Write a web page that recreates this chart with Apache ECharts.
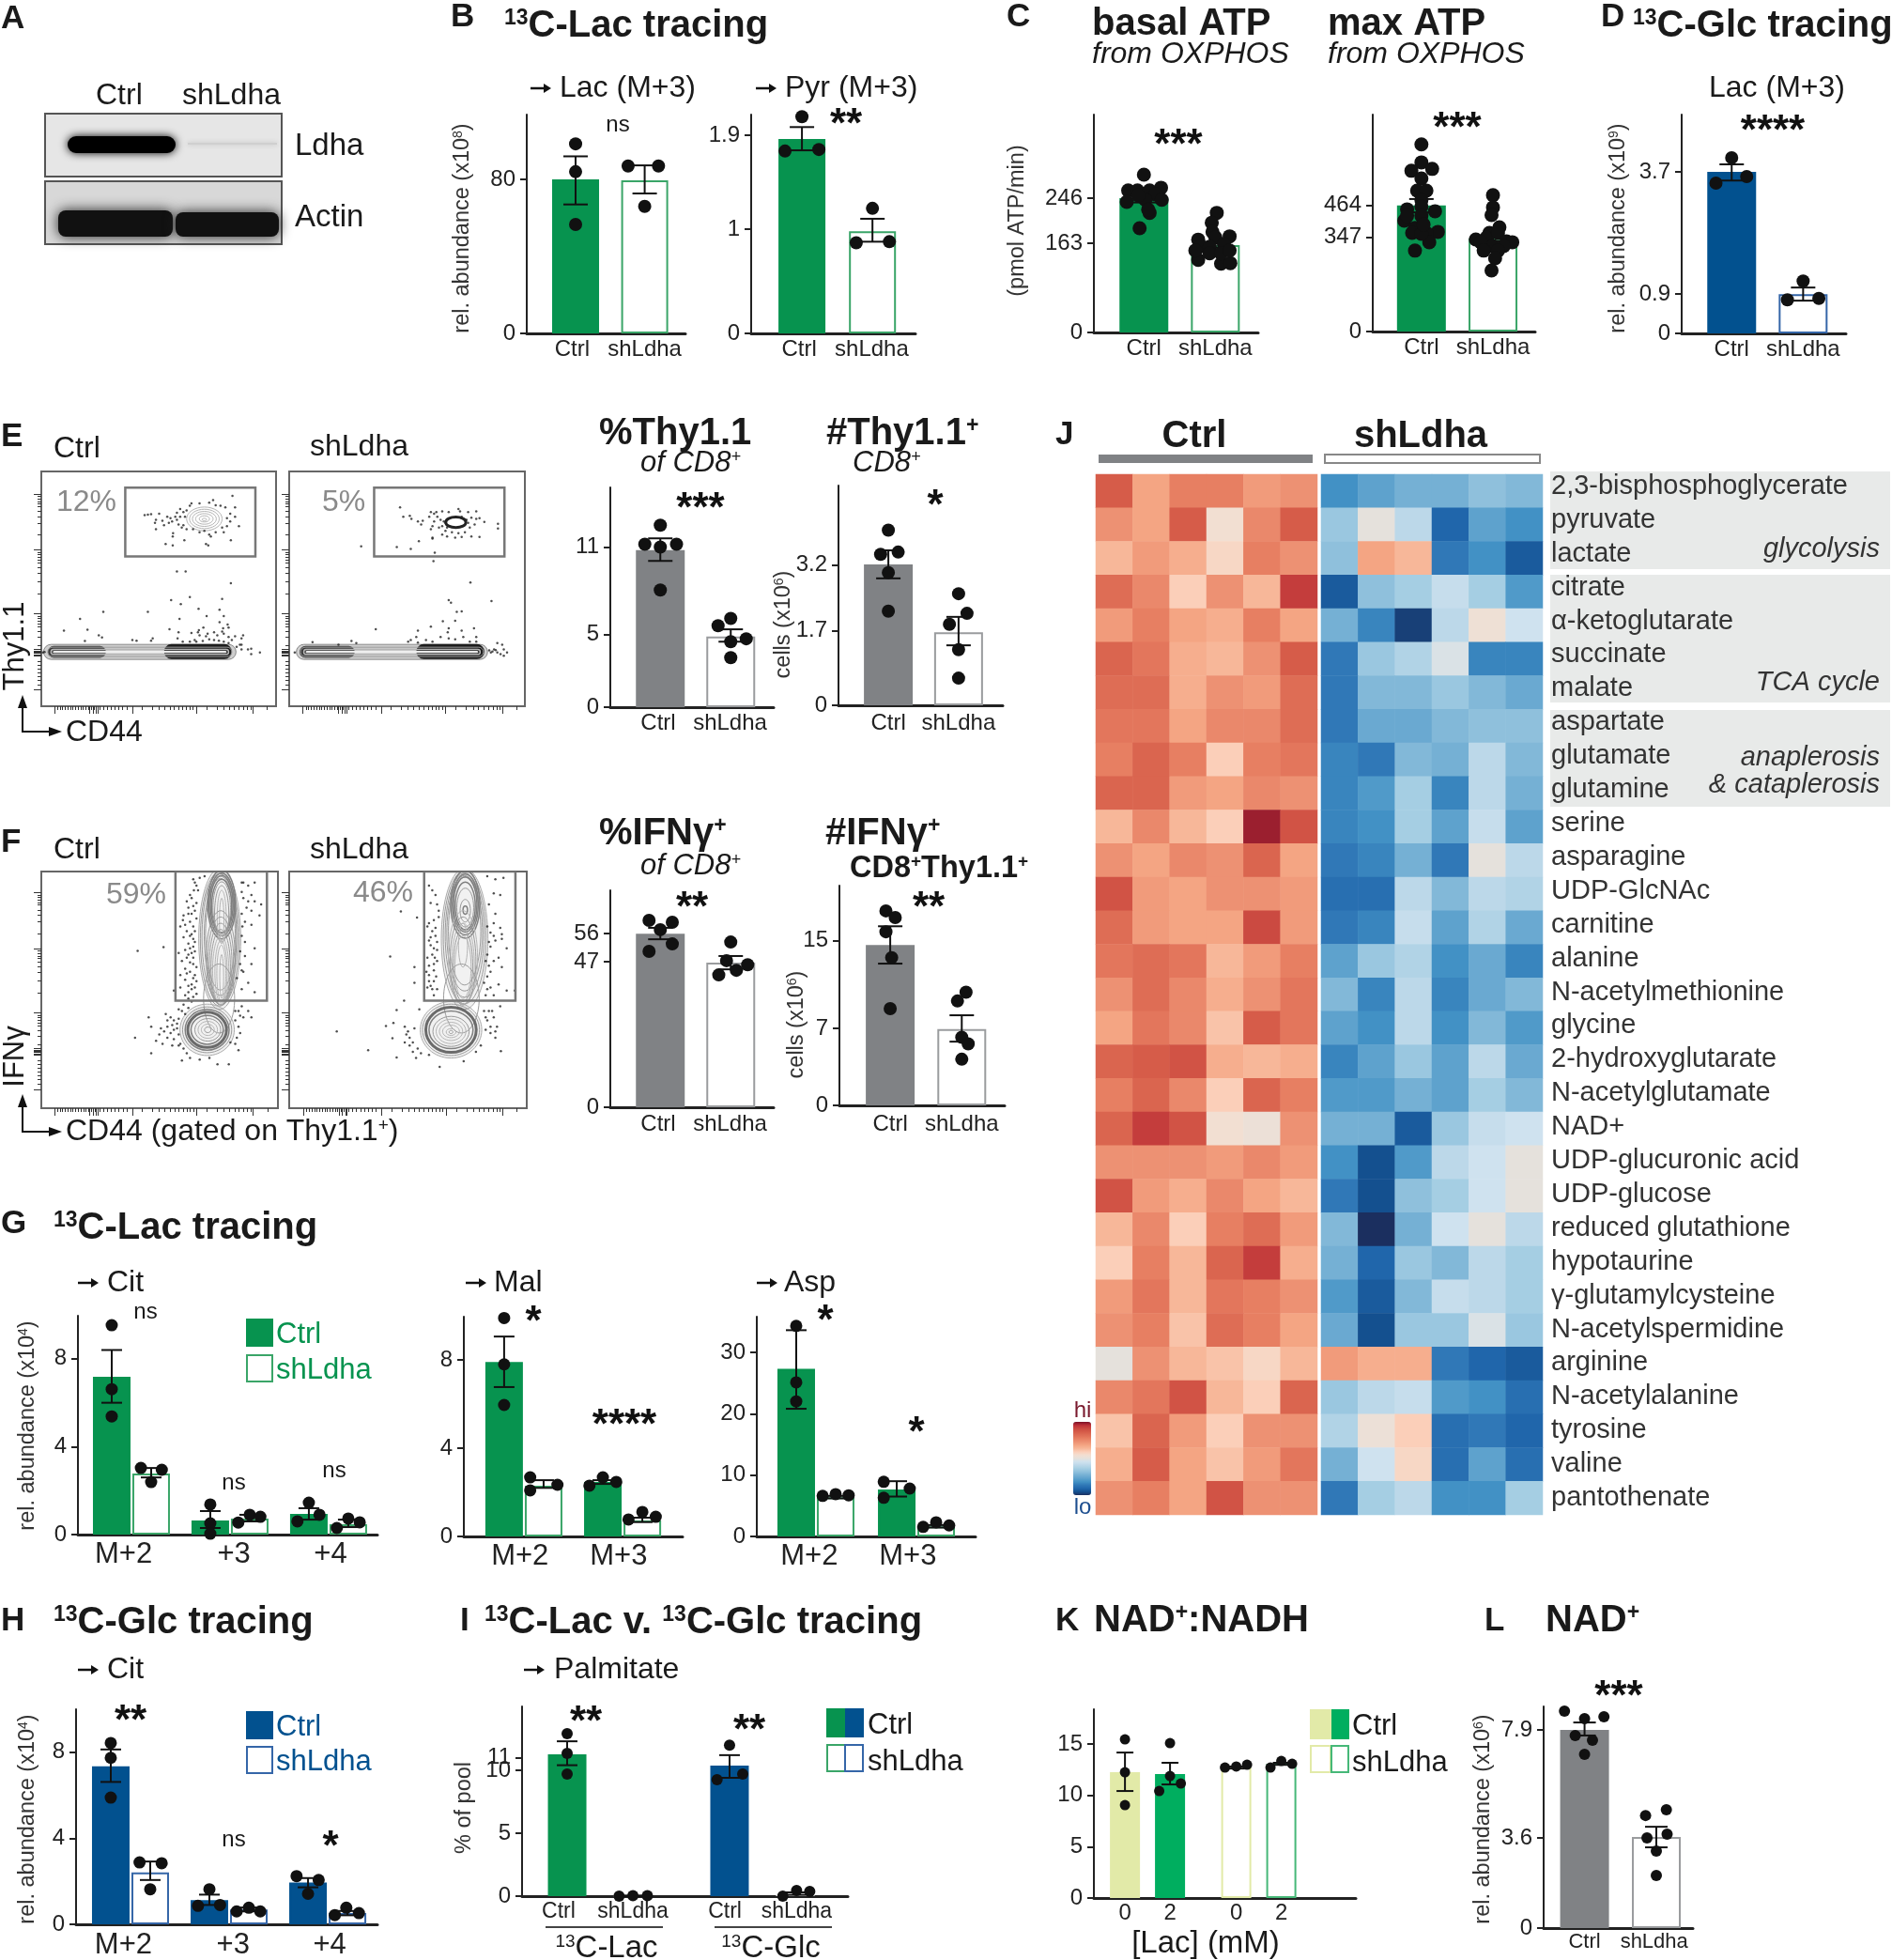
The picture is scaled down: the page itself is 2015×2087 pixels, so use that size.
<!DOCTYPE html>
<html>
<head>
<meta charset="utf-8">
<style>
  html, body { margin: 0; padding: 0; background: #fff; }
  #main { width: 2015px; height: 2087px; }
</style>
<script src="https://cdn.jsdelivr.net/npm/echarts@6/dist/echarts.min.js"></script>
</head>
<body>
<div id="main"></div>
<script>
// ---- bar panels: means, [lo, hi] errors, dots as [x jitter, value] per bar
const pairX = [0, 1];
const pairLabels = ['Ctrl', 'shLdha'];

const bLacMean = [80, 79.5];
const bLacErr = [[67, 92], [72.7, 87.3]];
const bLacDots = [[[0, 98.5], [0, 84], [0, 56.6]], [[-.24, 87], [.2, 87], [0, 66]]];
const bLacTicks = [0, 80];

const bPyrMean = [1.865, 0.98];
const bPyrErr = [[1.757, 1.98], [0.88, 1.1]];
const bPyrDots = [[[0, 2.08], [-.24, 1.75], [.24, 1.765]], [[0, 1.2], [-.23, .87], [.24, .88]]];
const bPyrTicks = [0, 1, 1.9];

const cBasalMean = [246, 160];
const cBasalErr = [[238, 254], [155, 165]];
const cBasalDots = [
  [[0, 289], [-.22, 260], [.24, 265], [-.09, 260], [.08, 260], [.16, 253], [-.24, 239], [.02, 243], [.25, 243], [-.08, 251], [.08, 219], [.06, 225], [-.06, 191]],
  [[.02, 219], [-.05, 201], [-.04, 184], [-.24, 170], [.2, 176], [0, 174], [-.2, 158], [-.08, 157], [.12, 162], [-.24, 133], [.08, 126], [.21, 127], [-.08, 145], [.08, 145], [-.28, 150], [.2, 150]]
];
const cBasalTicks = [0, 163, 246];

const cMaxMean = [464, 343];
const cMaxErr = [[439, 488], [333, 353]];
const cMaxDots = [
  [[0, 689], [0, 623], [-.14, 592], [.15, 599], [0, 564], [-.06, 519], [.07, 519], [0, 484], [-.2, 450], [.19, 443], [0, 460], [-.24, 408], [0, 426], [-.09, 381], [.23, 367], [.07, 363], [-.13, 363], [.11, 329], [-.09, 298], [0, 360], [-.2, 426], [.03, 394]],
  [[0, 502], [0, 457], [-.02, 429], [.09, 384], [-.05, 363], [-.24, 339], [-.09, 346], [.07, 363], [.19, 332], [.27, 329], [-.17, 329], [0, 315], [.15, 315], [-.13, 298], [.07, 298], [.03, 270], [-.02, 225]]
];
const cMaxTicks = [0, 347, 464];

const dLacMean = [3.7, 0.9];
const dLacErr = [[3.5, 3.87], [.75, 1.05]];
const dLacDots = [[[0, 4.02], [-.22, 3.44], [.21, 3.59]], [[0, 1.2], [-.22, .77], [.22, .8]]];
const dLacTicks = [0, .9, 3.7];

const eFreqMean = [10.8, 4.85];
const eFreqErr = [[10.05, 11.6], [4.5, 5.35]];
const eFreqDots = [[[0, 12.5], [-.22, 11.2], [0, 11], [.23, 11.2], [0, 8.05]], [[0, 6.1], [-.18, 5.6], [.22, 4.7], [0, 4.5], [0, 3.4]]];
const eFreqTicks = [0, 5, 11];

const eNumMean = [3.22, 1.67];
const eNumErr = [[2.9, 3.54], [1.37, 2.02]];
const eNumDots = [[[0, 4.0], [-.11, 3.45], [.14, 3.5], [0, 3.03], [0, 2.15]], [[0, 2.55], [.12, 2.1], [-.13, 1.85], [0, 1.27], [0, .62]]];
const eNumTicks = [0, 1.7, 3.2];

const fFreqMean = [56, 46.7];
const fFreqErr = [[54.2, 57.9], [44.5, 48.8]];
const fFreqDots = [[[-.16, 60.3], [.17, 59.7], [0, 57.3], [.17, 52.7], [-.16, 50.3]], [[0, 53.3], [-.06, 47.3], [.24, 46], [-.17, 42.7], [.08, 44.2]]];
const fFreqTicks = [0, 47, 56];

const fNumMean = [14.6, 6.95];
const fNumErr = [[12.9, 16.3], [5.8, 8.2]];
const fNumDots = [[[-.06, 17.7], [.07, 17.1], [-.06, 15.8], [.02, 13.45], [0, 8.8]], [[.06, 10.3], [-.06, 9.5], [0, 6.2], [.09, 5.6], [0, 4.2]]];
const fNumTicks = [0, 7, 15];

const tripleX = [0, 1, 2.5, 3.5, 5, 6];
const tripleLabels = ['M+2', '+3', '+4'];
const gCitMean = [7.18, 2.78, .64, .73, .94, .47];
const gCitErr = [[6, 8.4], [2.6, 3.03], [.3, 1.07], [.6, .9], [.68, 1.2], [.34, .68]];
const gCitDots = [
  [[0, 9.53], [0, 6.62], [0, 5.38]], [[-.26, 3.03], [.27, 2.95], [0, 2.39]],
  [[0, 1.37], [0, .51], [0, .04]], [[-.29, .55], [0, .9], [.27, .81]],
  [[0, 1.45], [-.29, .6], [.27, .9]], [[-.29, .3], [0, .73], [.29, .56]]
];
const gCitTicks = [0, 4, 8];

const gMalX = [0, 1, 2.5, 3.5];
const gMalLabels = ['M+2', 'M+3'];
const gMalMean = [7.91, 2.3, 2.47, .72];
const gMalErr = [[6.77, 9.06], [2.2, 2.55], [2.38, 2.55], [.65, .85]];
const gMalDots = [
  [[0, 9.9], [0, 7.8], [0, 5.96]], [[-.34, 2.68], [-.34, 2.09], [.35, 2.34]],
  [[-.34, 2.3], [0, 2.68], [.34, 2.47]], [[-.35, .77], [0, 1.11], [.34, .89]]
];
const gMalTicks = [0, 4, 8];

const gAspX = [0, 1, 2.55, 3.55];
const gAspLabels = ['M+2', 'M+3'];
const gAspMean = [27.3, 6.4, 7.65, 1.65];
const gAspErr = [[20.8, 33.6], [6.2, 6.6], [6.5, 9], [1.45, 1.85]];
const gAspDots = [
  [[0, 34.3], [0, 25.1], [0, 22]], [[-.33, 6.6], [0, 6.9], [.33, 6.7]],
  [[-.33, 8.9], [.33, 7.8], [-.33, 6.3]], [[-.33, 1.55], [0, 2.3], [.33, 1.8]]
];
const gAspTicks = [0, 10, 20, 30];

const hCitMean = [7.35, 2.41, 1.12, .69, 1.94, .52];
const hCitErr = [[6.62, 8.13], [2.06, 2.92], [.9, 1.38], [.6, .78], [1.72, 2.15], [.42, .62]];
const hCitDots = [
  [[0, 8.43], [0, 7.74], [0, 5.89]], [[-.27, 2.88], [.29, 2.84], [0, 1.63]],
  [[0, 1.63], [-.29, .86], [.27, .9]], [[-.31, .6], [0, .77], [.29, .6]],
  [[-.29, 2.24], [.27, 2.06], [0, 1.42]], [[-.32, .43], [-.03, .77], [.29, .52]]
];
const hCitTicks = [0, 4, 8];

const iPalX = [0, 1, 2.47, 3.47];
const iPalLabels = ['Ctrl', 'shLdha', 'Ctrl', 'shLdha'];
const iPalMean = [11.27, .02, 10.37, .2];
const iPalErr = [[10.4, 12.3], [0, .05], [9.4, 11.2], [.1, .3]];
const iPalDots = [
  [[0, 12.9], [0, 11.34], [0, 9.7]], [[-.21, 0], [0, .03], [.22, .03]],
  [[0, 12], [-.19, 9.25], [.2, 9.7]], [[-.19, 0], [.02, .45], [.22, .37]]
];
// listed so that 10 and 11, which touch, are not the first or last pair
const iPalTicks = [5, 10, 11, 0];

const kNadX = [0, 1, 2.47, 3.47];
const kNadLabels = ['0', '2', '0', '2'];
const kNadMean = [12.26, 12.08, 12.72, 13.08];
const kNadErr = [[10.43, 14.18], [11.07, 13.18], [12.62, 12.82], [12.98, 13.18]];
const kNadDots = [
  [[0, 15.46], [0, 12.26], [0, 9.06]], [[0, 15.1], [0, 11.89], [.24, 11.16], [-.24, 10.43]],
  [[-.25, 12.72], [0, 12.82], [.24, 12.99]], [[-.24, 12.72], [0, 13.36], [.24, 13.08]]
];
const kNadTicks = [0, 5, 10, 15];

const lNadMean = [7.9, 3.63];
const lNadErr = [[7.68, 8.2], [3.22, 4.04]];
const lNadDots = [
  [[-.28, 8.65], [0, 8.35], [.27, 8.43], [-.13, 7.68], [.11, 7.49], [0, 6.93]],
  [[-.15, 4.49], [.14, 4.72], [-.13, 3.6], [.15, 3.75], [0, 3.07], [0, 2.1]]
];
const lNadTicks = [0, 3.6, 7.9];

// ---- heatmap, in colour steps from -11 (lo) to 11 (hi)
const metabolites = ['2,3-bisphosphoglycerate', 'pyruvate', 'lactate', 'citrate', 'α-ketoglutarate', 'succinate', 'malate', 'aspartate', 'glutamate', 'glutamine', 'serine', 'asparagine', 'UDP-GlcNAc', 'carnitine', 'alanine', 'N-acetylmethionine', 'glycine', '2-hydroxyglutarate', 'N-acetylglutamate', 'NAD+', 'UDP-glucuronic acid', 'UDP-glucose', 'reduced glutathione', 'hypotaurine', 'γ-glutamylcysteine', 'N-acetylspermidine', 'arginine', 'N-acetylalanine', 'tyrosine', 'valine', 'pantothenate'];
const heatColumns = ['1', '2', '3', '4', '5', '6'];
const heatCtrl = [
  [8, 4, 6, 6, 4.5, 5], [5, 4, 8, 1, 5.5, 8], [3, 4.5, 3.5, 1.5, 6, 5], [7, 5.5, 2, 5, 3, 9.5],
  [4.5, 6, 4, 3.5, 6, 4], [7.5, 6.5, 3.5, 3, 5, 8], [7, 7, 3.5, 5, 4.5, 7], [6.5, 6.5, 4, 5.5, 5.5, 7],
  [6, 7.5, 6, 2, 6, 6.5], [7.5, 7.5, 4.5, 4, 5.5, 5], [3, 5.5, 3, 2, 10.5, 8.5], [5, 4, 5.5, 5, 7.5, 4],
  [8.5, 4.5, 4, 5, 5, 4.5], [7, 4.5, 4, 4, 9, 4.5], [6.5, 7, 6.5, 3, 4.5, 6], [5, 7, 5.5, 3.5, 5, 6.5],
  [4, 6.5, 5.5, 2.5, 8, 6.5], [7.5, 8, 8.5, 3.5, 3, 3.5], [6, 7.5, 5.5, 2, 7.5, 6], [7.5, 9.5, 8.5, 1, .5, 5],
  [5, 5, 5, 4.5, 5.5, 4.5], [8.5, 4.5, 3.5, 5.5, 4, 3], [3, 5.5, 2, 6, 7, 4.5], [2, 6, 3, 7.5, 9.5, 3.5],
  [4.5, 6.5, 3, 6.5, 6, 5], [5, 6, 2.5, 7, 6, 4], [0, 5, 3, 2.5, 1.5, 3], [5.5, 6.5, 8.5, 3, 2, 7.5],
  [2.5, 7.5, 4.5, 2, 5, 5], [3.5, 8, 4, 2.5, 4.5, 6.5], [5, 6, 4, 8.5, 5, 5]
];
const heatSh = [
  [-7, -6, -5, -5, -4, -4.5], [-3.5, 0, -2, -9, -6, -7], [-4, 4, 3, -8, -7, -9.5], [-9.5, -4, -3, -1.5, -3, -6.5],
  [-5, -7.5, -10.5, -2, .7, -1], [-8, -3.5, -2.5, -.5, -7.5, -7.5], [-8, -4.5, -4.5, -3.5, -4.5, -5.5], [-8, -5.5, -5.5, -4.5, -4, -4],
  [-7.5, -8, -4.5, -5, -2, -4.5], [-7.5, -6.5, -3, -7.5, -2, -5], [-7.5, -7, -3, -6, -1.5, -6], [-8, -7.5, -5, -8, 0, -2],
  [-8.5, -8.5, -2, -4.5, -2, -2.5], [-8, -7.5, -1.5, -6, -2.5, -5.5], [-6, -3.5, -2.5, -7, -5.5, -7.5], [-4.5, -7.5, -2, -7.5, -5.5, -4.5],
  [-6, -7, -2, -7, -4.5, -6.5], [-7.5, -6, -3.5, -6, -2, -5.5], [-6.5, -6.5, -5, -6, -3, -4.5], [-5, -5, -9.5, -3.5, -1.5, -1],
  [-7, -10, -6.5, -2, -1, 0], [-8, -10, -4, -3, -1, 0], [-4.5, -11, -5, -1, 0, -2], [-5, -9, -3.5, -4.5, -2, -3],
  [-6.5, -9.5, -4.5, -1.5, -2, -3], [-5.5, -10, -3.5, -3.5, -.5, -3.5], [4.5, 3.5, 3.5, -8, -9, -9.5], [-3.5, -2, -1.5, -6.5, -7, -8.5],
  [-2.5, .5, 2, -8.5, -8, -9], [-5, -1, 1.5, -8.5, -6, -8.5], [-8, -3, -2, -7, -7, -3]
];
const heatColors = ['#1b2f5f', '#14508f', '#2066ab', '#3078b7', '#4291c5', '#5ea2cd', '#75b0d4', '#8fc0dc', '#a5cee3', '#bcd8e9', '#cfe2ef', '#e5e1dc', '#f2dfd2', '#fbcfb9', '#f7b799', '#f4a583', '#ed9173', '#e77f62', '#de6d55', '#d65c49', '#cb4a41', '#bc2f37', '#7a0f26'];

// ---- flow plots, in channel units. rings: [cx, cy, rx, ry, level]
const flowXMajor = [80, 190, 200, 210, 215, 322, 520, 695];
const flowXMinor = [90, 98, 106, 114, 122, 130, 138, 146, 154, 162, 170, 178, 185, 195, 205, 220, 232, 244, 256, 268, 280, 292, 304, 352, 384, 405, 422, 438, 452, 466, 478, 490, 500, 510, 552, 584, 605, 622, 638, 652, 666, 678, 688, 740];
const flowYMajor = [92, 270, 475, 720, 590, 594, 598, 602, 606, 610];
const flowYMinor = [100, 108, 116, 124, 132, 148, 165, 185, 222, 278, 286, 294, 302, 312, 328, 346, 372, 412, 483, 491, 499, 507, 517, 533, 551, 577, 628, 640, 652, 664, 676, 688, 704];

const eCtrlGate = [300, 72, 703, 292];
const eCtrlRings = [
  [345, 598, 298, 24, 4], [150, 598, 90, 19, 5], [525, 597, 105, 24, 6],
  [345, 598, 285, 15, 1], [345, 598, 275, 8, 7], [345, 598, 268, 2, 8],
  [545, 172, 55, 38, 0], [545, 172, 46, 31, 0], [545, 172, 37, 24, 0], [545, 172, 27, 17, 0], [545, 172, 16, 10, 0], [545, 174, 7, 4, 0]
];
const eCtrlDots = [
  [232, 470], [160, 492], [110, 530], [183, 527], [218, 545], [228, 552], [175, 563], [370, 470], [322, 560], [335, 562], [385, 555], [380, 562], [460, 340], [487, 340], [627, 378], [442, 432], [500, 422], [472, 445], [600, 428], [527, 460], [592, 463], [468, 492], [552, 483], [605, 483], [592, 503], [617, 510], [620, 520], [603, 522], [437, 525], [465, 535], [505, 537], [528, 528], [542, 520], [525, 535], [600, 533], [462, 555], [478, 565], [500, 565], [520, 565], [530, 545], [550, 548], [555, 540], [575, 535], [585, 545], [605, 540], [620, 550], [640, 548], [665, 545], [660, 555], [630, 560], [660, 575], [680, 590], [690, 588], [690, 605], [717, 600], [660, 590], [655, 575], [645, 582], [515, 560], [540, 563], [560, 558], [575, 560], [590, 562], [605, 565], [620, 570], [50, 598], [45, 600],
  [632, 98], [572, 112], [560, 120], [530, 122], [505, 122], [500, 130], [470, 140], [480, 150], [460, 152], [455, 165], [470, 165], [490, 145], [485, 165], [460, 175], [440, 170], [430, 165], [405, 155], [380, 157], [360, 160], [370, 158], [395, 175], [392, 185], [415, 178], [435, 185], [445, 180], [465, 190], [480, 192], [490, 205], [475, 200], [510, 205], [530, 215], [545, 210], [560, 222], [580, 215], [600, 200], [615, 195], [625, 180], [615, 170], [640, 165], [652, 195], [640, 135], [610, 135], [595, 130], [580, 128], [625, 155], [395, 205], [420, 192], [448, 218], [447, 228], [425, 252], [447, 257], [483, 240], [550, 252], [557, 257], [627, 240], [605, 215], [565, 228]
];

const eShGate = [1070, 72, 1472, 292];
const eShRings = [
  [1125, 598, 295, 24, 4], [925, 598, 85, 19, 5], [1305, 597, 105, 24, 6],
  [1125, 598, 282, 15, 1], [1125, 598, 272, 8, 7], [1125, 598, 265, 2, 8],
  [1322, 183, 31, 17, 9]
];
const eShDots = [
  [1150, 135], [1030, 260], [1140, 262], [1183, 268], [1208, 243], [1250, 235], [1257, 280], [1253, 307], [1367, 376], [1300, 432], [1307, 440], [1432, 435], [1325, 470], [1340, 468], [1282, 500], [1320, 498], [1245, 517], [1300, 522], [1378, 522], [1075, 525], [1205, 530], [1297, 535], [1340, 530], [1183, 560], [1175, 565], [1200, 550], [1230, 560], [1250, 565], [1275, 550], [1300, 555], [1320, 558], [1345, 550], [1385, 550], [1365, 565], [1385, 565], [1000, 563], [1015, 570], [880, 567], [960, 575], [1205, 568], [1450, 570], [1465, 575], [1470, 590], [1480, 600], [1440, 590], [1450, 600], [1460, 605], [1445, 592], [1435, 597], [1425, 593], [1430, 600], [1470, 610], [825, 600],
  [1160, 165], [1180, 162], [1185, 172], [1205, 180], [1215, 190], [1220, 178], [1245, 150], [1255, 155], [1240, 165], [1262, 150], [1280, 148], [1300, 150], [1330, 140], [1335, 148], [1360, 150], [1385, 148], [1395, 170], [1410, 182], [1380, 190], [1365, 200], [1350, 215], [1330, 218], [1310, 215], [1290, 210], [1270, 200], [1250, 195], [1245, 205], [1255, 180], [1275, 175], [1285, 180], [1290, 185], [1265, 165], [1340, 165], [1355, 175], [1370, 168], [1385, 172], [1360, 185], [1250, 232], [1280, 222], [1295, 228], [1320, 232], [1340, 230], [1370, 228], [1395, 230], [1452, 188], [1452, 203], [1280, 195], [1295, 200]
];

const fCtrlGate = [455, 25, 738, 437];
const fCtrlRings = [
  [592, 240, 65, 225, 11], [592, 240, 60, 214, 1], [592, 235, 55, 203, 1], [594, 230, 50, 190, 1], [594, 225, 46, 178, 1],
  [598, 130, 43, 110, 2], [598, 130, 39, 100, 2], [598, 130, 35, 92, 2], [598, 135, 31, 85, 2], [598, 140, 27, 82, 1], [598, 160, 22, 90, 1], [598, 170, 14, 85, 0], [598, 180, 7, 70, 0],
  [595, 300, 45, 150, 1], [595, 310, 40, 140, 1], [595, 320, 35, 130, 1], [595, 330, 30, 120, 1], [595, 340, 25, 110, 0], [596, 345, 19, 100, 0], [597, 350, 14, 90, 0], [598, 360, 6, 70, 0], [590, 430, 48, 110, 1],
  [553, 530, 84, 82, 11], [553, 530, 76, 73, 1], [553, 530, 68, 65, 2], [553, 530, 60, 56, 3], [553, 530, 50, 46, 2], [555, 530, 40, 36, 1], [555, 530, 30, 27, 0], [555, 530, 20, 18, 0], [555, 530, 10, 9, 1]
];
const fCtrlDots = [
  [338, 278], [418, 266], [510, 50], [530, 45], [545, 40], [520, 70], [512, 85], [500, 100], [490, 120], [480, 165], [495, 160], [478, 180], [510, 135], [505, 160], [470, 200], [490, 215], [500, 230], [510, 240], [495, 255], [510, 265], [505, 285], [465, 285], [490, 300], [475, 310], [510, 320], [485, 335], [500, 345], [470, 355], [515, 355], [485, 370], [505, 385], [470, 395], [515, 395], [450, 405], [495, 410], [510, 425], [480, 450], [495, 460], [505, 440],
  [660, 60], [680, 70], [700, 60], [720, 130], [680, 120], [665, 110], [690, 150], [660, 160], [715, 165], [670, 185], [690, 195], [660, 230], [700, 270], [670, 295], [655, 320], [690, 320], [665, 345], [680, 380], [645, 365], [660, 400], [700, 410], [640, 470], [660, 455], [690, 490], [680, 470], [655, 485], [650, 520], [645, 555], [625, 570], [650, 595], [620, 640], [585, 640], [560, 620], [475, 628], [490, 605],
  [372, 490], [425, 480], [440, 490], [430, 500], [450, 500], [465, 495], [445, 515], [430, 520], [410, 525], [380, 520], [420, 535], [440, 540], [460, 525], [465, 545], [405, 545], [430, 555], [450, 560], [395, 565], [415, 575], [330, 555], [380, 605], [445, 580], [465, 580],
  [515, 60], [525, 85], [505, 110], [520, 125], [495, 140], [515, 150], [520, 175], [500, 185], [510, 200], [485, 195], [515, 215], [505, 225], [480, 235], [515, 250], [500, 270], [485, 275], [515, 280], [495, 290], [510, 300], [500, 315], [520, 330], [490, 350], [510, 365], [520, 375], [495, 390], [505, 400], [485, 420], [520, 415], [495, 430], [475, 470], [485, 480], [465, 465], [460, 510], [450, 530], [470, 575], [480, 590], [500, 620], [530, 625], [640, 500], [650, 470], [665, 490], [655, 540], [640, 575], [660, 340], [655, 280], [670, 250], [662, 200], [675, 140], [660, 90], [690, 100], [700, 120], [665, 60]
];

const fShGate = [1225, 25, 1507, 437];
const fShRings = [
  [1350, 240, 72, 225, 11], [1350, 235, 66, 212, 1], [1350, 228, 60, 198, 1], [1350, 222, 55, 184, 1], [1350, 215, 50, 172, 1],
  [1352, 130, 45, 108, 2], [1352, 130, 40, 97, 2], [1352, 130, 36, 88, 2], [1352, 135, 31, 76, 2], [1352, 140, 26, 62, 1], [1352, 150, 16, 36, 1], [1352, 148, 7, 13, 2],
  [1345, 300, 45, 150, 0], [1345, 310, 40, 140, 1], [1345, 320, 35, 130, 0], [1345, 325, 30, 115, 1], [1345, 330, 25, 100, 0], [1345, 260, 14, 70, 0], [1340, 430, 55, 110, 1],
  [1308, 530, 95, 90, 11], [1308, 530, 88, 82, 1], [1308, 530, 78, 72, 3], [1308, 530, 68, 60, 2], [1308, 535, 56, 48, 1], [1308, 535, 46, 39, 0], [1308, 535, 36, 29, 0], [1308, 535, 26, 20, 0], [1308, 537, 15, 11, 0], [1308, 537, 6, 5, 1]
];
const fShDots = [
  [1153, 152], [1203, 172], [1120, 296], [1195, 330], [1195, 380], [1163, 437], [1140, 467], [955, 535], [1052, 595], [1107, 518], [1130, 508], [1127, 557], [1140, 618], [1210, 465], [1165, 520], [1170, 545], [1165, 570], [1180, 580], [1195, 525], [1190, 600], [1200, 620], [1240, 610], [1273, 648], [1347, 630], [1462, 598], [1430, 540], [1450, 520], [1440, 490], [1460, 455], [1410, 470], [1445, 535], [1420, 500], [1435, 470],
  [1240, 70], [1260, 100], [1245, 125], [1270, 150], [1255, 180], [1240, 190], [1260, 205], [1245, 235], [1265, 250], [1245, 260], [1255, 270], [1235, 300], [1240, 325], [1255, 340], [1232, 345], [1240, 375], [1250, 400], [1262, 360], [1258, 300],
  [1420, 40], [1445, 50], [1470, 45], [1440, 95], [1460, 100], [1425, 130], [1445, 160], [1440, 190], [1460, 205], [1465, 225], [1445, 245], [1480, 270], [1465, 240], [1430, 265], [1420, 290], [1455, 300], [1440, 310], [1425, 325], [1465, 330], [1420, 360], [1410, 380], [1430, 395], [1455, 385], [1415, 420], [1480, 405], [1505, 405],
  [1235, 200], [1250, 215], [1260, 230], [1240, 245], [1265, 275], [1250, 290], [1265, 310], [1255, 320], [1240, 355], [1255, 375], [1245, 390], [1265, 400], [1235, 395], [1255, 420], [1270, 170], [1265, 130], [1250, 85], [1420, 200], [1430, 220], [1440, 230], [1425, 250], [1415, 310], [1430, 345], [1420, 400], [1440, 420], [1425, 470], [1415, 490], [1430, 520], [1445, 555], [1415, 530], [1180, 555], [1175, 535], [1190, 570], [1205, 590], [1215, 605], [1385, 600], [1400, 580]
];

const FONT = '"Liberation Sans", Arial, sans-serif';
const GREEN = '#07934f', GREEN_LINE = '#3aa568', BLUE = '#02518f', BLUE_LINE = '#3566a8', GREY = '#808285', GREY_LINE = '#9a9c9e';
const LIME = '#e2eaa8', LEAF = '#00ae5f';

var grids = [], xAxes = [], yAxes = [], series = [], elements = [];

function addBarPanel(c) {
  var g = grids.length, xi = xAxes.length, yi = yAxes.length;
  grids.push({ left: c.box[0], top: c.box[1], width: c.box[2] - c.box[0], height: c.box[3] - c.box[1] });
  xAxes.push({
    type: 'value', gridIndex: g, min: c.xRange[0], max: c.xRange[1], splitLine: { show: false },
    axisLine: { show: true, onZero: false, lineStyle: { color: '#222', width: 3 } },
    axisTick: { show: false },
    axisLabel: {
      customValues: c.labelX, color: '#222', fontFamily: FONT, fontSize: c.labelSize || 24, margin: c.labelMargin || 5,
      showMinLabel: true, showMaxLabel: true,
      formatter: function (v) { return c.labels[c.labelX.indexOf(v)]; }
    }
  });
  yAxes.push({
    type: 'value', gridIndex: g, min: 0, max: c.yMax, position: 'left', splitLine: { show: false },
    axisLine: { show: true, onZero: false, lineStyle: { color: '#222', width: 2 } },
    axisTick: { show: true, length: 7, customValues: c.ticks, lineStyle: { color: '#222', width: 2 } },
    axisLabel: { customValues: c.ticks, color: '#222', fontFamily: FONT, fontSize: 24, margin: 12, showMinLabel: true, showMaxLabel: true, hideOverlap: false }
  });
  series.push({
    type: 'bar', xAxisIndex: xi, yAxisIndex: yi, barWidth: c.barWidth, silent: true, z: 2,
    data: c.x.map(function (x, i) {
      return { value: [x, c.mean[i]], itemStyle: { color: c.fills[i], borderColor: c.lines[i], borderWidth: 2 } };
    })
  });
  series.push({
    type: 'custom', xAxisIndex: xi, yAxisIndex: yi, silent: true, z: 3, clip: false,
    encode: { x: 0, y: [1, 2] },
    data: c.x.map(function (x, i) { return [x, c.err[i][0], c.err[i][1]]; }),
    renderItem: function (params, api) {
      var lo = api.coord([api.value(0), api.value(1)]);
      var hi = api.coord([api.value(0), api.value(2)]);
      var w = c.capWidth || 13;
      var line = { stroke: '#111', lineWidth: 2 };
      return { type: 'group', children: [
        { type: 'line', shape: { x1: lo[0], y1: lo[1], x2: hi[0], y2: hi[1] }, style: line },
        { type: 'line', shape: { x1: lo[0] - w, y1: lo[1], x2: lo[0] + w, y2: lo[1] }, style: line },
        { type: 'line', shape: { x1: hi[0] - w, y1: hi[1], x2: hi[0] + w, y2: hi[1] }, style: line }
      ] };
    }
  });
  var pts = [];
  c.dots.forEach(function (list, i) {
    list.forEach(function (d) { pts.push([c.x[i] + d[0], d[1]]); });
  });
  series.push({
    type: 'scatter', xAxisIndex: xi, yAxisIndex: yi, silent: true, z: 4, clip: false,
    symbolSize: c.dotSize || 14, itemStyle: { color: '#111', opacity: 1 }, data: pts
  });
}

var ringStyles = [
  { stroke: '#b5b5b5', lineWidth: 1 }, { stroke: '#9a9a9a', lineWidth: 1 }, { stroke: '#808080', lineWidth: 1.5 }, { stroke: '#6a6a6a', lineWidth: 3 },
  { fill: '#cfcfcf', stroke: '#888', lineWidth: 1 }, { fill: '#3a3a3a' }, { fill: '#1d1d1d' },
  { stroke: '#b5b5b5', lineWidth: 1.5 }, { fill: '#fff', stroke: '#eee', lineWidth: 1 },
  { stroke: '#222', lineWidth: 3 }, { fill: '#fff' },
  { fill: 'rgba(150,150,150,0.13)', stroke: '#aaa', lineWidth: 1 }
];

function addFlowPlot(c) {
  var g = grids.length;
  grids.push({ left: c.box[0], top: c.box[1], width: c.box[2], height: c.box[3], show: true, borderColor: '#666', borderWidth: 2 });
  function xaxis(vals, len) {
    return { type: 'value', gridIndex: g, position: 'bottom', min: c.xRange[0], max: c.xRange[1], splitLine: { show: false },
      axisLine: { show: true, onZero: false, lineStyle: { color: '#666', width: 2 } },
      axisTick: { show: true, length: len, customValues: vals.map(function (v) { return v + c.tickShift; }), lineStyle: { color: '#333', width: 1 } },
      axisLabel: { show: false } };
  }
  function yaxis(vals, len) {
    return { type: 'value', gridIndex: g, position: 'left', inverse: true, min: c.yRange[0], max: c.yRange[1], splitLine: { show: false },
      axisLine: { show: true, onZero: false, lineStyle: { color: '#666', width: 2 } },
      axisTick: { show: true, length: len, customValues: vals, lineStyle: { color: '#333', width: 1 } },
      axisLabel: { show: false } };
  }
  var xi = xAxes.length, yi = yAxes.length;
  xAxes.push(xaxis(flowXMajor, 8), xaxis(flowXMinor, 4));
  yAxes.push(yaxis(flowYMajor, 8), yaxis(flowYMinor, 4));
  series.push({
    type: 'custom', xAxisIndex: xi, yAxisIndex: yi, silent: true, z: 2, clip: true, encode: { x: 0, y: 1 }, data: c.rings,
    renderItem: function (params, api) {
      var p = api.coord([api.value(0), api.value(1)]);
      var s = api.size([api.value(2), api.value(3)]);
      var rx = Math.abs(s[0]), ry = Math.abs(s[1]);
      var st = ringStyles[api.value(4)];
      var style = { fill: st.fill || 'none', stroke: st.stroke || 'none', lineWidth: st.lineWidth || 0 };
      if (rx > ry * 3) {
        return { type: 'rect', shape: { x: p[0] - rx, y: p[1] - ry, width: rx * 2, height: ry * 2, r: ry }, style: style };
      }
      return { type: 'ellipse', shape: { cx: p[0], cy: p[1], rx: rx, ry: ry }, style: style };
    }
  });
  series.push({
    type: 'scatter', xAxisIndex: xi, yAxisIndex: yi, silent: true, z: 3, clip: true,
    symbolSize: 2.5, itemStyle: { color: '#222' }, data: c.dots
  });
  series.push({
    type: 'custom', xAxisIndex: xi, yAxisIndex: yi, silent: true, z: 4, clip: true, encode: { x: [0, 2], y: [1, 3] }, data: [c.gate],
    renderItem: function (params, api) {
      var a = api.coord([api.value(0), api.value(1)]);
      var b = api.coord([api.value(2), api.value(3)]);
      return { type: 'rect', shape: { x: a[0], y: a[1], width: b[0] - a[0], height: b[1] - a[1] }, style: { fill: 'none', stroke: '#777', lineWidth: 2.5 } };
    }
  });
}

function txt(x, y, text, o) {
  o = o || {};
  var size = o.size || 24;
  var weight = o.bold ? 'bold' : 'normal', slant = o.italic ? 'italic' : 'normal';
  elements.push({
    type: 'text', x: x, y: o.rot ? y : y + 2, rotation: o.rot || 0, z: 20, silent: true,
    style: {
      text: text, fill: o.color || '#1a1a1a', fontFamily: FONT, fontSize: size, fontWeight: weight, fontStyle: slant,
      align: o.align || 'left', textAlign: o.align || 'left', verticalAlign: 'middle', textVerticalAlign: 'middle',
      rich: { sup: { fontFamily: FONT, fontSize: Math.round(size * 0.58), fontWeight: weight, fontStyle: slant, fill: o.color || '#1a1a1a', verticalAlign: 'top' } }
    }
  });
}
function box(x, y, w, h, style, z, r) {
  elements.push({ type: 'rect', z: z === undefined ? 15 : z, silent: true, shape: { x: x, y: y, width: w, height: h, r: r || 0 }, style: style });
}
function stars(x, y, n) { txt(x, y + 9, '*'.repeat(n), { size: 44, bold: true, align: 'center', color: '#111' }); }
function ns(x, y) { txt(x, y, 'ns', { size: 24, align: 'center' }); }
function yTitle(x, y, text) { txt(x, y, text, { size: 23.5, rot: Math.PI / 2, align: 'center', color: '#333' }); }
function arrowTo(x, y, text, tx) {
  elements.push({ type: 'line', z: 15, silent: true, shape: { x1: x, y1: y + 2, x2: x + 16, y2: y + 2 }, style: { stroke: '#111', lineWidth: 2.5 } });
  elements.push({ type: 'polygon', z: 15, silent: true, shape: { points: [[x + 22, y + 2], [x + 14, y - 3], [x + 14, y + 7]] }, style: { fill: '#111' } });
  txt(tx, y, text, { size: 32 });
}
function legendPair(x, color, line, y1, y2, tx) {
  box(x, y1, 29, 30, { fill: color });
  box(x + 1, y2 + 1, 27, 28, { fill: '#fff', stroke: line, lineWidth: 2 });
  txt(tx, y1 + 15, 'Ctrl', { size: 31, color: color });
  txt(tx, y2 + 15, 'shLdha', { size: 31, color: color });
}

// ---- panel B
addBarPanel({ box: [561, 122, 730, 355], xRange: [-.707, 1.59], yMax: 113.7, ticks: bLacTicks, x: pairX, labelX: [-.05, 1], labels: pairLabels, mean: bLacMean, err: bLacErr, dots: bLacDots, fills: [GREEN, '#fff'], lines: [GREEN, GREEN_LINE], barWidth: 50 });
addBarPanel({ box: [800, 122, 975, 355], xRange: [-.72, 1.61], yMax: 2.1, ticks: bPyrTicks, x: pairX, labelX: [-.04, .99], labels: pairLabels, mean: bPyrMean, err: bPyrErr, dots: bPyrDots, fills: [GREEN, '#fff'], lines: [GREEN, GREEN_LINE], barWidth: 50 });
// ---- panel C
addBarPanel({ box: [1165, 122, 1340, 354], xRange: [-.7, 1.6], yMax: 399, ticks: cBasalTicks, x: pairX, labelX: [0, 1], labels: pairLabels, mean: cBasalMean, err: cBasalErr, dots: cBasalDots, fills: [GREEN, '#fff'], lines: [GREEN, GREEN_LINE], barWidth: 52, dotSize: 15 });
addBarPanel({ box: [1462, 122, 1635, 353], xRange: [-.68, 1.59], yMax: 799, ticks: cMaxTicks, x: pairX, labelX: [0, 1], labels: pairLabels, mean: cMaxMean, err: cMaxErr, dots: cMaxDots, fills: [GREEN, '#fff'], lines: [GREEN, GREEN_LINE], barWidth: 52, dotSize: 15 });
// ---- panel D
addBarPanel({ box: [1791, 122, 1966, 355], xRange: [-.7, 1.6], yMax: 5.01, ticks: dLacTicks, x: pairX, labelX: [0, 1], labels: pairLabels, mean: dLacMean, err: dLacErr, dots: dLacDots, fills: [BLUE, '#fff'], lines: [BLUE, BLUE_LINE], barWidth: 52 });
// ---- panels E and F bars
addBarPanel({ box: [650, 519, 824, 753], xRange: [-.71, 1.61], yMax: 15.1, ticks: eFreqTicks, x: pairX, labelX: [-.03, 0.99], labels: pairLabels, mean: eFreqMean, err: eFreqErr, dots: eFreqDots, fills: [GREY, '#fff'], lines: [GREY, GREY_LINE], barWidth: 52 });
addBarPanel({ box: [893, 517, 1068, 751], xRange: [-.71, 1.63], yMax: 5.02, ticks: eNumTicks, x: pairX, labelX: [0, 1], labels: pairLabels, mean: eNumMean, err: eNumErr, dots: eNumDots, fills: [GREY, '#fff'], lines: [GREY, GREY_LINE], barWidth: 52, labelMargin: 7 });
addBarPanel({ box: [650, 948, 824, 1179], xRange: [-.71, 1.61], yMax: 70, ticks: fFreqTicks, x: pairX, labelX: [-.03, .99], labels: pairLabels, mean: fFreqMean, err: fFreqErr, dots: fFreqDots, fills: [GREY, '#fff'], lines: [GREY, GREY_LINE], barWidth: 52, labelMargin: 6 });
addBarPanel({ box: [894, 943, 1070, 1177], xRange: [-.71, 1.6], yMax: 20, ticks: fNumTicks, x: pairX, labelX: [0, 1], labels: pairLabels, mean: fNumMean, err: fNumErr, dots: fNumDots, fills: [GREY, '#fff'], lines: [GREY, GREY_LINE], barWidth: 52, labelMargin: 8 });
// ---- panel G
var sixFills = [GREEN, '#fff', GREEN, '#fff', GREEN, '#fff'], sixLines = [GREEN, GREEN_LINE, GREEN, GREEN_LINE, GREEN, GREEN_LINE];
addBarPanel({ box: [83, 1401, 402, 1634], xRange: [-.857, 6.74], yMax: 9.96, ticks: gCitTicks, x: tripleX, labelX: [.3, 3.1, 5.55], labels: tripleLabels, labelSize: 31, labelMargin: 6, mean: gCitMean, err: gCitErr, dots: gCitDots, fills: sixFills, lines: sixLines, barWidth: 40, dotSize: 13, capWidth: 11 });
addBarPanel({ box: [494, 1402, 727, 1636], xRange: [-1.02, 4.52], yMax: 9.96, ticks: gMalTicks, x: gMalX, labelX: [.4, 2.9], labels: gMalLabels, labelSize: 31, labelMargin: 6, mean: gMalMean, err: gMalErr, dots: gMalDots, fills: sixFills, lines: sixLines, barWidth: 40, dotSize: 13, capWidth: 11 });
addBarPanel({ box: [806, 1402, 1039, 1636], xRange: [-1, 4.55], yMax: 35.8, ticks: gAspTicks, x: gAspX, labelX: [.33, 2.83], labels: gAspLabels, labelSize: 31, labelMargin: 6, mean: gAspMean, err: gAspErr, dots: gAspDots, fills: sixFills, lines: sixLines, barWidth: 40, dotSize: 13, capWidth: 11 });
// ---- panel H
addBarPanel({ box: [81, 1820, 402, 2053], xRange: [-.88, 6.76], yMax: 10, ticks: hCitTicks, x: tripleX, labelX: [.32, 3.1, 5.55], labels: tripleLabels, labelSize: 31, labelMargin: 7, mean: hCitMean, err: hCitErr, dots: hCitDots, fills: [BLUE, '#fff', BLUE, '#fff', BLUE, '#fff'], lines: [BLUE, BLUE_LINE, BLUE, BLUE_LINE, BLUE, BLUE_LINE], barWidth: 40, dotSize: 13, capWidth: 11 });
// ---- panel I
addBarPanel({ box: [556, 1817, 903, 2019], xRange: [-.686, 4.27], yMax: 15.07, ticks: iPalTicks, x: iPalX, labelX: [-.13, 1, 2.4, 3.49], labels: iPalLabels, labelSize: 23, labelMargin: 5, mean: iPalMean, err: iPalErr, dots: iPalDots, fills: [GREEN, '#fff', BLUE, '#fff'], lines: [GREEN, '#fff', BLUE, '#fff'], barWidth: 41, dotSize: 12, capWidth: 11 });
// ---- panel K
addBarPanel({ box: [1165, 1820, 1444, 2021], xRange: [-.69, 5.125], yMax: 18.4, ticks: kNadTicks, x: kNadX, labelX: [.001, 1.001, 2.471, 3.471], labels: kNadLabels, labelMargin: 4, mean: kNadMean, err: kNadErr, dots: kNadDots, fills: [LIME, LEAF, '#fff', '#fff'], lines: [LIME, LEAF, LIME, '#46b878'], barWidth: 32, dotSize: 11, capWidth: 9 });
// ---- panel L
addBarPanel({ box: [1644, 1817, 1803, 2053], xRange: [-.57, 1.51], yMax: 8.84, ticks: lNadTicks, x: pairX, labelX: [0, .97], labels: pairLabels, labelSize: 22, labelMargin: 4, mean: lNadMean, err: lNadErr, dots: lNadDots, fills: [GREY, '#fff'], lines: [GREY, GREY_LINE], barWidth: 52, dotSize: 12, capWidth: 12 });

// ---- flow plots
addFlowPlot({ box: [44, 502, 250, 250], xRange: [40, 767], yRange: [20, 772], tickShift: 0, rings: eCtrlRings, dots: eCtrlDots, gate: eCtrlGate });
addFlowPlot({ box: [308, 502, 251, 250], xRange: [808, 1535], yRange: [20, 772], tickShift: 770, rings: eShRings, dots: eShDots, gate: eShGate });
addFlowPlot({ box: [44, 928, 252, 252], xRange: [40, 772], yRange: [25, 780], tickShift: 0, rings: fCtrlRings, dots: fCtrlDots, gate: fCtrlGate });
addFlowPlot({ box: [308, 928, 253, 252], xRange: [808, 1542], yRange: [25, 780], tickShift: 772, rings: fShRings, dots: fShDots, gate: fShGate });

// ---- heatmap
function addHeat(left, matrix) {
  var g = grids.length, xi = xAxes.length, yi = yAxes.length;
  grids.push({ left: left, top: 505, width: 236, height: 1108 });
  xAxes.push({ type: 'category', gridIndex: g, data: heatColumns, show: false });
  yAxes.push({ type: 'category', gridIndex: g, inverse: true, data: metabolites, show: false });
  var cells = [];
  matrix.forEach(function (row, r) { row.forEach(function (v, k) { cells.push([k, r, v]); }); });
  series.push({ type: 'heatmap', xAxisIndex: xi, yAxisIndex: yi, silent: true, data: cells, itemStyle: { borderWidth: 0 } });
  return series.length - 1;
}
var heatA = addHeat(1167, heatCtrl);
var heatB = addHeat(1407, heatSh);
// the row names run on a slightly wider pitch than the cells, so they get their own axis
grids.push({ left: 1407, top: 500, width: 236, height: 1113 });
xAxes.push({ type: 'category', gridIndex: grids.length - 1, data: heatColumns, show: false });
yAxes.push({
  type: 'category', gridIndex: grids.length - 1, inverse: true, data: metabolites, position: 'right',
  axisLine: { show: false }, axisTick: { show: false },
  axisLabel: { interval: 0, color: '#333', fontFamily: FONT, fontSize: 29, margin: 9 }
});

// ---- blot, panel A
box(48, 121, 252, 67, { fill: '#e6e6e6', stroke: '#555', lineWidth: 2 }, 5);
box(48, 193, 252, 67, { fill: '#d8d8d8', stroke: '#555', lineWidth: 2 }, 5);
box(72, 145, 115, 18, { fill: '#000', shadowBlur: 10, shadowColor: '#000' }, 6, 9);
box(200, 152, 95, 2, { fill: '#cfcfcf', shadowBlur: 5, shadowColor: '#bbb' }, 6);
box(62, 224, 122, 28, { fill: '#111', shadowBlur: 14, shadowColor: '#222' }, 6, 8);
box(187, 226, 110, 26, { fill: '#111', shadowBlur: 14, shadowColor: '#222' }, 6, 8);
txt(102, 100, 'Ctrl', { size: 32 });
txt(194, 100, 'shLdha', { size: 32 });
txt(314, 154, 'Ldha', { size: 33 });
txt(314, 230, 'Actin', { size: 33 });

// ---- letters and headings
[['A', 1, 18], ['B', 480, 16], ['C', 1072, 16], ['D', 1705, 16], ['E', 1, 463], ['F', 1, 895], ['G', 1, 1301], ['H', 1, 1724], ['I', 490, 1724], ['J', 1124, 461], ['K', 1124, 1724], ['L', 1581, 1724]].forEach(function (l) {
  txt(l[1], l[2], l[0], { size: 35, bold: true });
});
txt(537, 26, '{sup|13}C-Lac tracing', { size: 40, bold: true });
txt(1163, 24, 'basal ATP', { size: 40, bold: true });
txt(1163, 56, 'from OXPHOS', { size: 32, italic: true });
txt(1414, 24, 'max ATP', { size: 40, bold: true });
txt(1414, 56, 'from OXPHOS', { size: 32, italic: true });
txt(1739, 26, '{sup|13}C-Glc tracing', { size: 40, bold: true });
arrowTo(565, 92, 'Lac (M+3)', 596);
arrowTo(805, 92, 'Pyr (M+3)', 836);
txt(1820, 92, 'Lac (M+3)', { size: 32 });
txt(638, 460, '%Thy1.1', { size: 40, bold: true });
txt(682, 491, 'of CD8{sup|+}', { size: 31, italic: true });
txt(880, 460, '#Thy1.1{sup|+}', { size: 40, bold: true });
txt(908, 491, 'CD8{sup|+}', { size: 31, italic: true });
txt(638, 886, '%IFNγ{sup|+}', { size: 40, bold: true });
txt(682, 920, 'of CD8{sup|+}', { size: 31, italic: true });
txt(879, 886, '#IFNγ{sup|+}', { size: 40, bold: true });
txt(905, 923, 'CD8{sup|+}Thy1.1{sup|+}', { size: 32.5, bold: true });
txt(57, 1306, '{sup|13}C-Lac tracing', { size: 40, bold: true });
arrowTo(83, 1364, 'Cit', 114);
arrowTo(496, 1364, 'Mal', 526);
arrowTo(806, 1364, 'Asp', 835);
txt(57, 1726, '{sup|13}C-Glc tracing', { size: 40, bold: true });
arrowTo(83, 1776, 'Cit', 114);
txt(516, 1726, '{sup|13}C-Lac v. {sup|13}C-Glc tracing', { size: 40, bold: true });
arrowTo(558, 1776, 'Palmitate', 590);
txt(1165, 1724, 'NAD{sup|+}:NADH', { size: 40, bold: true });
txt(1646, 1724, 'NAD{sup|+}', { size: 40, bold: true });

// ---- y titles
yTitle(493, 243, 'rel. abundance (x10{sup|8})');
yTitle(1084, 235, '(pmol ATP/min)');
yTitle(1724, 243, 'rel. abundance (x10{sup|9})');
yTitle(835, 665, 'cells (x10{sup|6})');
yTitle(849, 1091, 'cells (x10{sup|6})');
yTitle(30, 1518, 'rel. abundance (x10{sup|4})');
yTitle(30, 1937, 'rel. abundance (x10{sup|4})');
yTitle(495, 1925, '% of pool');
yTitle(1580, 1937, 'rel. abundance (x10{sup|6})');

// ---- significance marks
ns(658, 131); stars(901, 123, 2);
stars(1255, 145, 3); stars(1552, 127, 3); stars(1888, 130, 4);
stars(746, 532, 3); stars(996, 529, 1); stars(737, 957, 2); stars(989, 957, 2);
ns(155, 1395); ns(249, 1577); ns(356, 1564);
stars(568, 1398, 1); stars(665, 1508, 4); stars(879, 1397, 1); stars(976, 1516, 1);
stars(139, 1823, 2); ns(249, 1957); stars(352, 1957, 1);
stars(624, 1824, 2); stars(798, 1833, 2); stars(1724, 1797, 3);

// ---- legends
legendPair(262, GREEN, GREEN_LINE, 1404, 1442, 294);
legendPair(262, BLUE, BLUE_LINE, 1822, 1859, 294);
box(880, 1819, 20, 31, { fill: GREEN });
box(900, 1819, 20, 31, { fill: BLUE });
box(881, 1858, 19, 28, { fill: '#fff', stroke: GREEN_LINE, lineWidth: 2 });
box(900, 1858, 19, 28, { fill: '#fff', stroke: BLUE_LINE, lineWidth: 2 });
txt(924, 1835, 'Ctrl', { size: 31 });
txt(924, 1874, 'shLdha', { size: 31 });
box(1395, 1820, 23, 32, { fill: LIME });
box(1418, 1820, 19, 32, { fill: LEAF });
box(1396, 1859, 21, 28, { fill: '#fff', stroke: LIME, lineWidth: 2 });
box(1418, 1859, 18, 28, { fill: '#fff', stroke: '#46b878', lineWidth: 2 });
txt(1440, 1836, 'Ctrl', { size: 31 });
txt(1440, 1875, 'shLdha', { size: 31 });

// ---- sub labels for I and K
box(581, 2051, 125, 2, { fill: '#444' });
box(761, 2051, 125, 2, { fill: '#444' });
txt(646, 2073, '{sup|13}C-Lac', { size: 33, align: 'center' });
txt(821, 2073, '{sup|13}C-Glc', { size: 33, align: 'center' });
txt(1284, 2068, '[Lac] (mM)', { size: 33, align: 'center' });

// ---- flow labels
txt(57, 476, 'Ctrl', { size: 32 });
txt(330, 474, 'shLdha', { size: 32 });
txt(57, 903, 'Ctrl', { size: 32 });
txt(330, 903, 'shLdha', { size: 32 });
txt(92, 533, '12%', { size: 32, color: '#8a8a8a', align: 'center' });
txt(366, 533, '5%', { size: 32, color: '#8a8a8a', align: 'center' });
txt(145, 951, '59%', { size: 32, color: '#8a8a8a', align: 'center' });
txt(408, 949, '46%', { size: 32, color: '#8a8a8a', align: 'center' });
txt(16, 688, 'Thy1.1', { size: 31, rot: Math.PI / 2, align: 'center' });
txt(16, 1125, 'IFNγ', { size: 31, rot: Math.PI / 2, align: 'center' });
txt(70, 778, 'CD44', { size: 32 });
txt(70, 1203, 'CD44 (gated on Thy1.1{sup|+})', { size: 32 });
[[779, 740], [1205, 1165]].forEach(function (a) {
  elements.push({ type: 'polyline', z: 15, silent: true, shape: { points: [[24, a[1] + 8], [24, a[0]], [58, a[0]]] }, style: { fill: 'none', stroke: '#111', lineWidth: 2 } });
  elements.push({ type: 'polygon', z: 15, silent: true, shape: { points: [[24, a[1]], [19, a[1] + 14], [29, a[1] + 14]] }, style: { fill: '#111' } });
  elements.push({ type: 'polygon', z: 15, silent: true, shape: { points: [[66, a[0]], [52, a[0] - 5], [52, a[0] + 5]] }, style: { fill: '#111' } });
});

// ---- heatmap furniture
txt(1272, 463, 'Ctrl', { size: 40, bold: true, align: 'center' });
txt(1513, 463, 'shLdha', { size: 40, bold: true, align: 'center' });
box(1170, 484, 228, 9, { fill: GREY });
box(1411, 484, 229, 9, { fill: '#fff', stroke: '#888', lineWidth: 2 });
box(1651, 502, 362, 104, { fill: '#e8eae9' }, -1);
box(1651, 612, 362, 136, { fill: '#e8eae9' }, -1);
box(1651, 756, 362, 103, { fill: '#e8eae9' }, -1);
txt(2002, 583, 'glycolysis', { size: 29, italic: true, align: 'right', color: '#333' });
txt(2002, 725, 'TCA cycle', { size: 29, italic: true, align: 'right', color: '#333' });
txt(2002, 805, 'anaplerosis', { size: 29, italic: true, align: 'right', color: '#333' });
txt(2002, 834, '& cataplerosis', { size: 29, italic: true, align: 'right', color: '#333' });
txt(1153, 1500, 'hi', { size: 24, align: 'center', color: '#7a1a2e' });
txt(1153, 1603, 'lo', { size: 24, align: 'center', color: '#1d4e8f' });

var chart = echarts.init(document.getElementById('main'), null, { renderer: 'canvas' });
chart.setOption({
  animation: false,
  backgroundColor: '#fff',
  textStyle: { fontFamily: FONT },
  grid: grids,
  xAxis: xAxes,
  yAxis: yAxes,
  visualMap: {
    type: 'continuous', min: -11, max: 11, seriesIndex: [heatA, heatB], dimension: 2, calculable: false, show: true,
    left: 1143, top: 1514, itemWidth: 19, itemHeight: 78, text: null, textGap: 0, padding: 0,
    inRange: { color: heatColors }
  },
  graphic: { elements: elements },
  series: series
});
</script>
</body>
</html>
